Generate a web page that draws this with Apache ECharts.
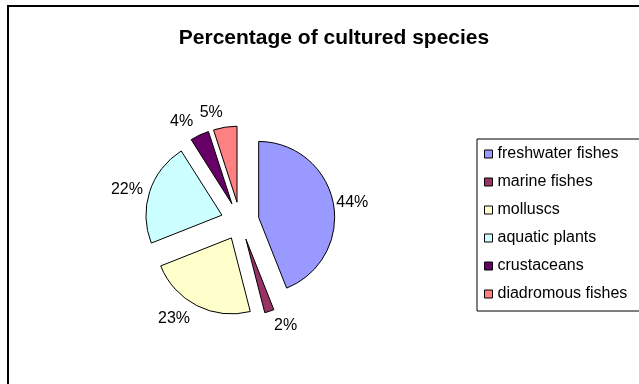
<!DOCTYPE html>
<html>
<head>
<meta charset="utf-8">
<script src="https://cdn.jsdelivr.net/npm/echarts@6/dist/echarts.min.js"></script>
<style>
  html, body { margin: 0; padding: 0; background: #fff; overflow: hidden; }
  #frame { position: absolute; left: 7px; top: 5px; width: 700px; height: 450px; border: 2px solid #000; box-sizing: border-box; }
  #chart { position: absolute; left: 0; top: 0; width: 639px; height: 384px; }
</style>
</head>
<body>
<div id="frame"></div>
<div id="chart"></div>
<script>
// data
var categories = ['freshwater fishes', 'marine fishes', 'molluscs', 'aquatic plants', 'crustaceans', 'diadromous fishes']
var shares = [44, 2, 23, 22, 4, 5]
var colors = ['#9999FF', '#993366', '#FFFFCC', '#CCFFFF', '#660066', '#FF8080']
// how far each percentage sits from its slice (excel puts them a bit unevenly)
var labelGap = [3, 15, 15, 7, 15, 15]

var chart = echarts.init(document.getElementById('chart'), null, { renderer: 'canvas' })

var pieData = categories.map(function(name, i) {
  return {
    name: name,
    value: shares[i],
    selected: true, // every slice pulled out, like the excel exploded pie
    itemStyle: { color: colors[i] },
    labelLine: { show: false, length: labelGap[i], length2: 0 }
  }
})

chart.setOption({
  animation: false,
  title: {
    text: 'Percentage of cultured species',
    left: 329,
    top: 23,
    textAlign: 'center',
    textStyle: {
      fontFamily: 'Liberation Sans, Arial',
      fontSize: 21,
      fontWeight: 'bold',
      color: '#000'
    }
  },
  legend: {
    orient: 'vertical',
    left: 477,
    top: 139,
    padding: [7, 20, 9, 7],
    borderColor: '#000',
    borderWidth: 1,
    itemWidth: 8,
    itemHeight: 8,
    itemGap: 12,
    icon: 'rect',
    selectedMode: false,
    itemStyle: { borderColor: '#000', borderWidth: 1 },
    textStyle: {
      fontFamily: 'Liberation Sans, Arial',
      fontSize: 16,
      lineHeight: 16,
      color: '#000'
    },
    data: categories
  },
  series: [{
    type: 'pie',
    center: [240, 221],
    radius: [0, 76],
    startAngle: 90,
    clockwise: true,
    selectedMode: 'multiple',
    selectedOffset: 19,
    avoidLabelOverlap: false,
    labelLayout: { hideOverlap: false },
    itemStyle: { borderColor: '#000', borderWidth: 1 },
    emphasis: { disabled: true },
    label: {
      show: true,
      position: 'outside',
      formatter: '{c}%',
      distanceToLabelLine: 0,
      fontFamily: 'Liberation Sans, Arial',
      fontSize: 16,
      color: '#000'
    },
    labelLine: { show: false, length: 10, length2: 0 },
    data: pieData
  }]
})
</script>
</body>
</html>
